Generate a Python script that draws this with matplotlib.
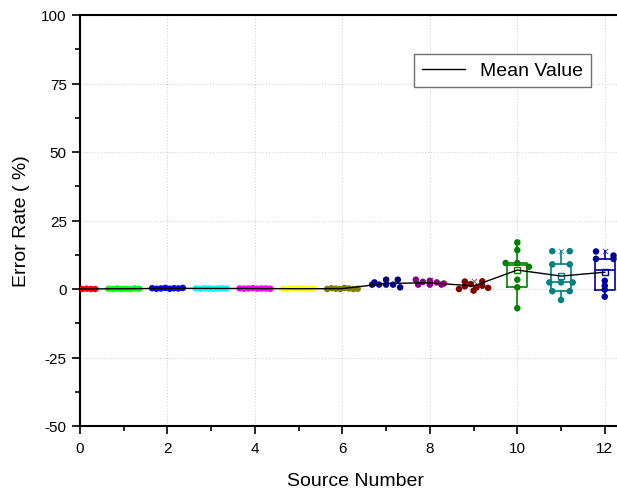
import numpy as np
import matplotlib.pyplot as plt
from matplotlib.ticker import MultipleLocator

plt.rcParams['font.family'] = ['Liberation Sans', 'DejaVu Sans']
plt.rcParams['axes.unicode_minus'] = False

# error rate (%) of each repeated run, per source
sources = list(range(13))
err_0 = [0.0, 0.0, 0.1, 0.0, 0.0, 0.1, 0.0, 0.0]
err_1 = [0.1, 0.0, 0.2, 0.0, 0.1, 0.0, 0.2, 0.1]
err_2 = [0.3, 0.1, 0.2, 0.4, 0.1, 0.3, 0.2, 0.4]
err_3 = [0.2, 0.1, 0.3, 0.2, 0.1, 0.2, 0.3, 0.2]
err_4 = [0.2, 0.1, 0.2, 0.3, 0.1, 0.2, 0.2, 0.1]
err_5 = [0.1, 0.0, 0.1, 0.2, 0.1, 0.0, 0.1, 0.1]
err_6 = [0.0, 0.3, 0.1, 0.0, 0.4, 0.2, 0.0, 0.1]
err_7 = [1.6, 2.4, 3.4, 1.6, 3.4, 1.6, 1.6, 0.6]
err_8 = [1.6, 3.4, 2.6, 3.0, 1.6, 2.4, 1.6, 2.0]
err_9 = [0.0, 1.0, 1.8, 2.7, 0.6, -0.6, 2.8, 1.2, 0.4]
err_10 = [17.0, 14.2, 9.5, 9.5, 8.1, 3.4, 0.6, -7.0]
err_11 = [13.8, 13.8, 9.0, 9.0, 2.4, 2.4, 2.4, -0.8, -0.8, -4.0]
err_12 = [13.7, 12.2, 11.0, 11.0, 3.0, 1.2, -0.2, -2.8]
errors = [err_0, err_1, err_2, err_3, err_4, err_5, err_6,
          err_7, err_8, err_9, err_10, err_11, err_12]
box_sources = [10, 11, 12]

colors = ['#FF0000', '#00FF00', '#0000FF', '#00FFFF', '#FF00FF', '#FFFF00',
          '#808000', '#000080', '#800080', '#800000', '#008000', '#008080',
          '#0000A0']


def spread(vals, bin_w=2.0, width=0.8):
    # bin-based column scatter: points sharing a bin are spread side by side
    vals = np.asarray(vals)
    bins = np.floor(vals / bin_w)
    off = np.zeros(len(vals))
    for b in np.unique(bins):
        idx = np.where(bins == b)[0]
        k = len(idx)
        off[idx] = (np.arange(k) + 0.5) / k * width - width / 2
    return off


fig = plt.figure(figsize=(6.17, 4.89), dpi=100)
ax = fig.add_axes([80 / 617, 62 / 489, 551 / 617, 411 / 489])

for s, vals, c in zip(sources, errors, colors):
    v = np.asarray(vals)
    if s in box_sources:
        stats = dict(med=np.median(v),
                     q1=np.percentile(v, 25, method='lower'),
                     q3=np.percentile(v, 75, method='lower'),
                     whislo=v.min(), whishi=v.max(), mean=v.mean(), fliers=[])
        ax.bxp([stats], positions=[s], widths=0.45, showmeans=True,
               showcaps=False, showfliers=False, manage_ticks=False,
               boxprops=dict(color=c, lw=1.2),
               whiskerprops=dict(color=c, lw=1.2),
               medianprops=dict(color=c, lw=1.2),
               meanprops=dict(marker='s', mfc='none', mec=c, ms=5, mew=1),
               zorder=2)
    if s >= 7:
        # max marker
        ax.scatter([s], [v.max()], marker='x', s=14, color=c, lw=0.7,
                   alpha=0.7, zorder=2)
    ax.scatter(s + spread(v), v, s=22, color=c, edgecolors='none', zorder=3)

means = [np.mean(v) for v in errors]
ax.plot(sources, means, color='black', lw=1, zorder=4, label='Mean Value')

ax.set_xlim(0, 12.6)
ax.set_ylim(-50, 100)
ax.xaxis.set_major_locator(MultipleLocator(2))
ax.xaxis.set_minor_locator(MultipleLocator(1))
ax.yaxis.set_major_locator(MultipleLocator(25))
ax.yaxis.set_minor_locator(MultipleLocator(12.5))
ax.tick_params(which='major', direction='out', length=6, width=1.2,
               labelsize=11)
ax.tick_params(axis='x', which='major', pad=5)
ax.tick_params(which='minor', direction='out', length=3.5, width=1.2)
ax.grid(which='major', linestyle=':', color='#d4d4d4', lw=0.8, zorder=0)
ax.set_axisbelow(True)
for sp in ax.spines.values():
    sp.set_linewidth(1.5)

ax.set_xlabel('Source Number', fontsize=14, labelpad=12)
ax.set_ylabel('Error Rate ( %)', fontsize=14, labelpad=8)

leg = ax.legend(loc='upper left', bbox_to_anchor=(414 / 617, 1 - 55 / 489),
                bbox_transform=fig.transFigure, borderaxespad=0,
                fontsize=14, handlelength=2.2, fancybox=False,
                edgecolor='#707070', framealpha=1)
leg.get_frame().set_linewidth(1)

fig.savefig('out.png', dpi=100)
